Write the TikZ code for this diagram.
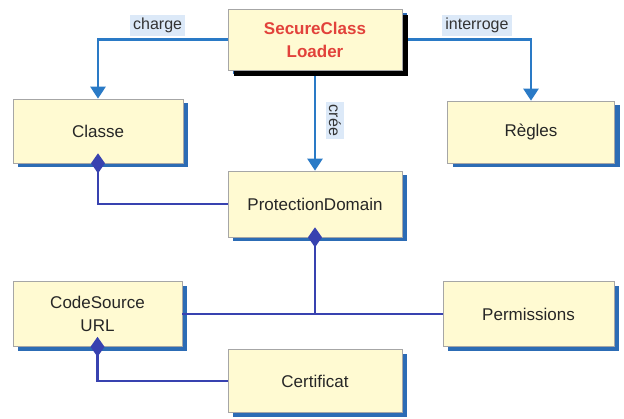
\documentclass[tikz,border=0pt]{standalone}
\usepackage{fontspec}
\setmainfont{Liberation Sans}
\usetikzlibrary{arrows.meta,shadows,backgrounds}
\definecolor{boxfill}{HTML}{FFFAD2}
\definecolor{shadeblue}{HTML}{2C6CB5}
\definecolor{arrowblue}{HTML}{2A7AC6}
\definecolor{aggblue}{HTML}{3842B0}
\definecolor{labelblue}{HTML}{DCE9F8}
\definecolor{loaderred}{HTML}{E2423B}
\tikzset{
	classbox/.style={draw=black!35, line width=0.6pt, fill=boxfill, align=center, inner sep=0pt,
		font=\fontsize{17}{23}\selectfont, text=black!85,
		drop shadow={shadow xshift=5pt, shadow yshift=-4pt, fill=shadeblue, opacity=1}},
	loaderbox/.style={classbox, font=\bfseries\fontsize{17}{23}\selectfont, text=loaderred,
		drop shadow={shadow xshift=6pt, shadow yshift=-6pt, fill=black, opacity=1}},
	assoc/.style={draw=arrowblue, line width=2.4pt, -{Triangle[width=15pt,length=12pt]}},
	agg/.style={draw=aggblue, line width=2.2pt, -{Diamond[width=14pt,length=20pt,fill=aggblue]}, shorten >=-10pt},
	link/.style={draw=aggblue, line width=2.2pt},
	lbl/.style={fill=labelblue, inner sep=3pt, font=\fontsize{16}{19}\selectfont, text=black!80}
}

\begin{document}
\begin{tikzpicture}[x=1pt, y=-1pt]
	\useasboundingbox (0,0) rectangle (624,418);
	% boxes
	\node[loaderbox, minimum width=174pt, minimum height=61pt] (loader) at (315,39.5) {SecureClass\\Loader};
	\node[classbox, minimum width=170pt, minimum height=64pt] (classe) at (98,131) {Classe};
	\node[classbox, minimum width=167pt, minimum height=62pt] (regles) at (531,132) {Règles};
	\node[classbox, minimum width=174pt, minimum height=66pt] (pd) at (315,204) {ProtectionDomain};
	\node[classbox, minimum width=169pt, minimum height=65pt] (codesource) at (97.5,314) {CodeSource\\URL};
	\node[classbox, minimum width=171pt, minimum height=65pt] (permissions) at (528.5,314) {Permissions};
	\node[classbox, minimum width=174pt, minimum height=63pt] (certificat) at (315,381) {Certificat};
	\coordinate (junction) at (pd.south |- codesource.east);

	% arrows from the loader
	\begin{scope}[on background layer]
		\draw[assoc] (loader.west) -| node[lbl, pos=0.27, above=2pt] (chargelbl) {charge} (classe.north);
		\draw[assoc] (loader.east) -| node[lbl, pos=0.29, above=2pt] (interrogelbl) {interroge} (regles.north);
		\draw[assoc] (loader.south) -- node[lbl, rotate=-90, anchor=south, outer sep=11pt] (creelbl) {crée} (pd.north);
	\end{scope}

	% aggregations
	\draw[agg] (pd.west) -| (classe.south);
	\draw[link] (codesource.east) -- (permissions.west);
	\draw[agg] (junction) -- (pd.south);
	\draw[agg] (certificat.west) -| (codesource.south);
\end{tikzpicture}
\end{document}
